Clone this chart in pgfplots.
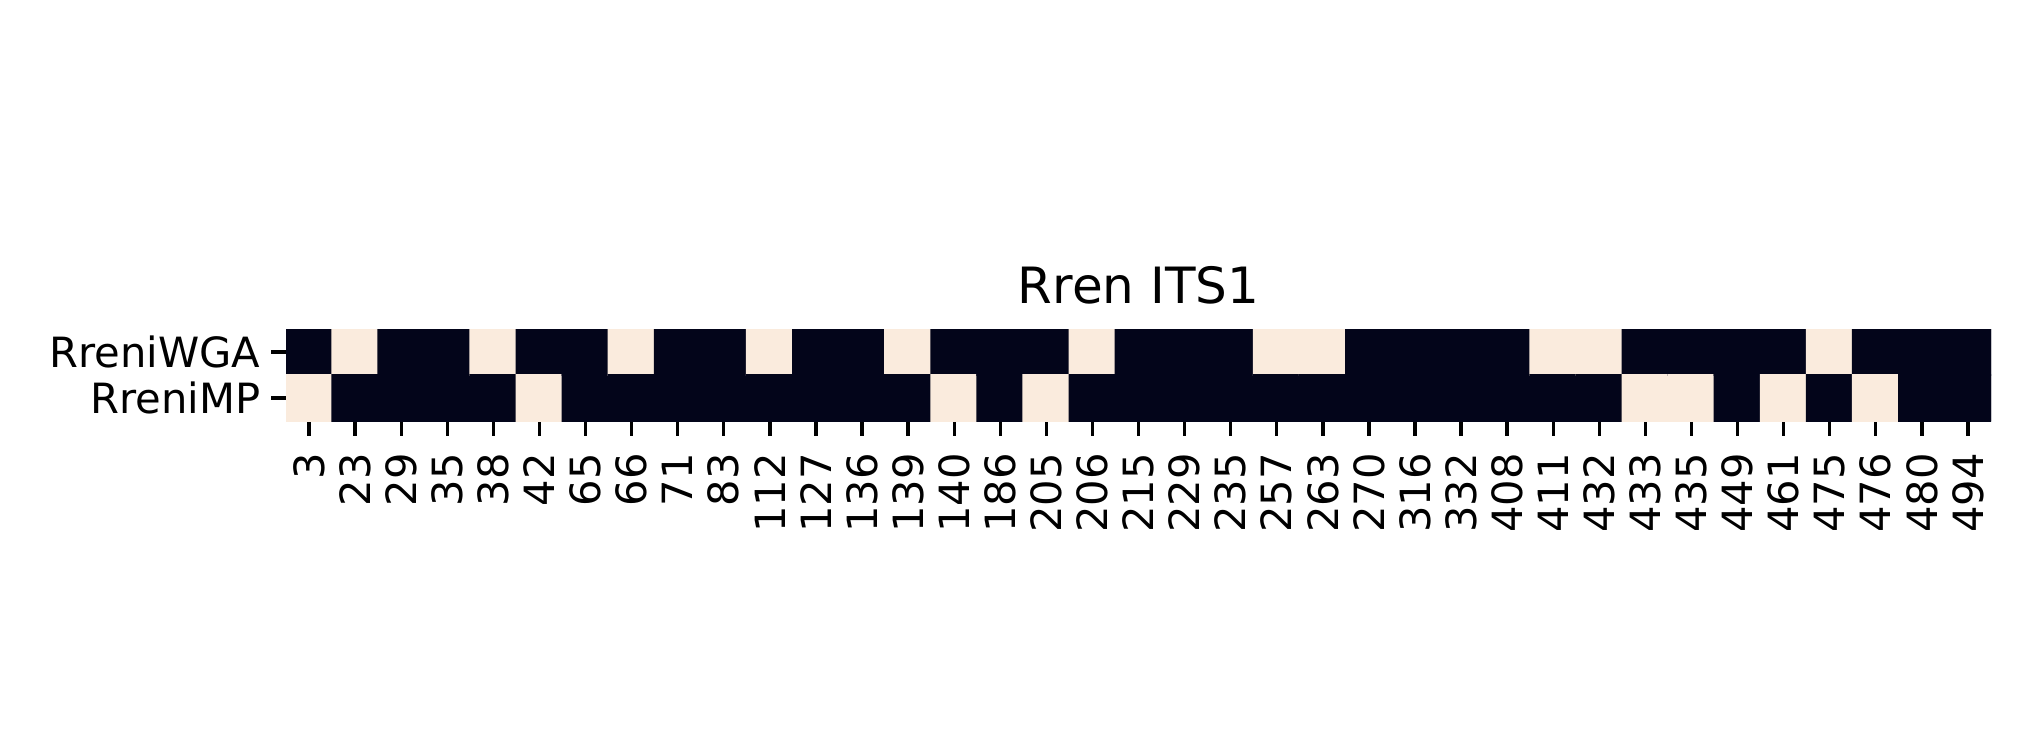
\documentclass[border=0pt]{standalone}
\usepackage{pgfplots}
\pgfplotsset{compat=1.18}
\usepackage{fontspec}
\setmainfont{DejaVu Sans}
\definecolor{hmdark}{RGB}{3,5,26}
\definecolor{hmlight}{RGB}{250,235,221}
\begin{document}
\begin{tikzpicture}
\path[use as bounding box] (0,0) rectangle (489.6pt,180pt);
\begin{axis}[
  at={(68.64pt,78.96pt)}, anchor=south west,
  scale only axis, width=409.2pt, height=22.08pt,
  xmin=-0.5, xmax=36.5, ymin=-0.5, ymax=1.5,
  y dir=reverse,
  axis line style={draw=none},
  colormap={hm}{rgb255=(3,5,26) rgb255=(250,235,221)},
  point meta min=0, point meta max=1,
  xtick={0,...,36},
  xticklabels={3,23,29,35,38,42,65,66,71,83,112,127,136,139,140,186,205,206,215,229,235,257,263,270,316,332,408,411,432,433,435,449,461,475,476,480,494},
  ytick={0,1},
  yticklabels={RreniWGA,RreniMP},
  xtick pos=bottom, ytick pos=left,
  tick align=outside,
  major tick length=3.5pt,
  every tick/.style={black, line width=0.8pt},
  xticklabel shift=4pt,
  yticklabel shift=2.5pt,
  xticklabel style={rotate=90, anchor=east, inner sep=0pt, font=\fontsize{10}{12}\selectfont},
  yticklabel style={anchor=east, inner sep=0pt, font=\fontsize{10}{12}\selectfont},
  title={Rren ITS1},
  every axis title/.style={at={(0.5,1)}, anchor=base, yshift=6.2pt, inner sep=0pt, font=\fontsize{12}{14}\selectfont},
]
\addplot[matrix plot*, mesh/cols=37, mesh/rows=2, point meta=explicit] table[meta=c] {
x y c
0 0 0
1 0 1
2 0 0
3 0 0
4 0 1
5 0 0
6 0 0
7 0 1
8 0 0
9 0 0
10 0 1
11 0 0
12 0 0
13 0 1
14 0 0
15 0 0
16 0 0
17 0 1
18 0 0
19 0 0
20 0 0
21 0 1
22 0 1
23 0 0
24 0 0
25 0 0
26 0 0
27 0 1
28 0 1
29 0 0
30 0 0
31 0 0
32 0 0
33 0 1
34 0 0
35 0 0
36 0 0
0 1 1
1 1 0
2 1 0
3 1 0
4 1 0
5 1 1
6 1 0
7 1 0
8 1 0
9 1 0
10 1 0
11 1 0
12 1 0
13 1 0
14 1 1
15 1 0
16 1 1
17 1 0
18 1 0
19 1 0
20 1 0
21 1 0
22 1 0
23 1 0
24 1 0
25 1 0
26 1 0
27 1 0
28 1 0
29 1 1
30 1 1
31 1 0
32 1 1
33 1 0
34 1 1
35 1 0
36 1 0
};
\end{axis}
\end{tikzpicture}
\end{document}
